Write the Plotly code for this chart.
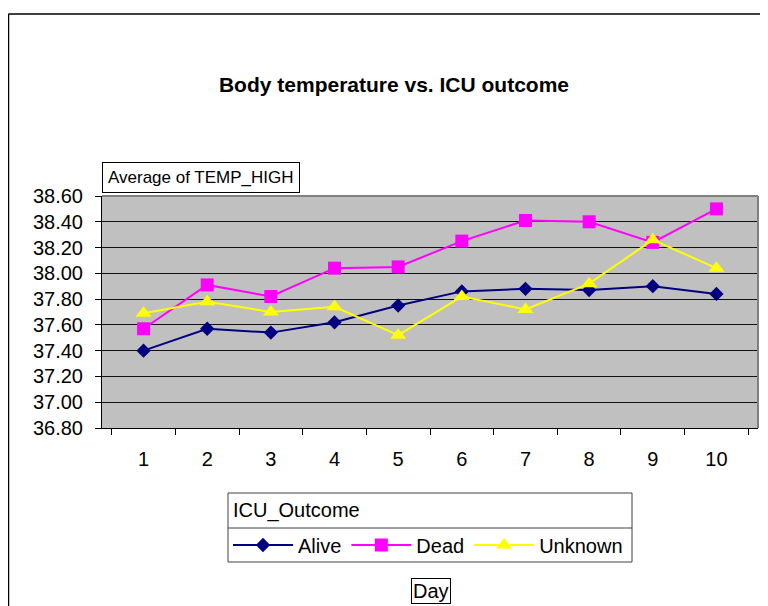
import plotly.graph_objects as go

days = ["1", "2", "3", "4", "5", "6", "7", "8", "9", "10"]
alive = [37.40, 37.57, 37.54, 37.62, 37.75, 37.86, 37.88, 37.87, 37.90, 37.84]
dead = [37.57, 37.91, 37.82, 38.04, 38.05, 38.25, 38.41, 38.40, 38.24, 38.50]
unknown = [37.69, 37.78, 37.70, 37.74, 37.52, 37.82, 37.72, 37.92, 38.26, 38.04]
y_ticks = [36.8, 37.0, 37.2, 37.4, 37.6, 37.8, 38.0, 38.2, 38.4, 38.6]

# page body has an 8px margin; work in reference pixel coordinates
OX, OY = 8, 8
W, H = 768 - OX, 606 - OY
PL, PR, PT, PB = 102, 758, 196, 428  # plot area in reference pixels
L, R, T, B = PL - OX, W - (PR - OX), PT - OY, H - (PB - OY)
PW, PH = PR - PL, PB - PT


def px(x):
    return (x - PL) / PW


def py(y):
    return (PB - y) / PH


FONT = "Arial, Liberation Sans, sans-serif"

fig = go.Figure()
fig.add_trace(go.Scatter(x=days, y=alive, name="Alive", mode="lines+markers",
                         line=dict(color="#000080", width=2),
                         marker=dict(symbol="diamond", size=11, color="#000080")))
fig.add_trace(go.Scatter(x=days, y=dead, name="Dead", mode="lines+markers",
                         line=dict(color="#FF00FF", width=2),
                         marker=dict(symbol="square", size=13, color="#FF00FF")))
fig.add_trace(go.Scatter(x=days, y=unknown, name="Unknown", mode="lines+markers",
                         line=dict(color="#FFFF00", width=2),
                         marker=dict(symbol="triangle-up", size=14, color="#FFFF00")))

fig.update_layout(
    width=W, height=H,
    margin=dict(l=L, r=R, t=T, b=B),
    paper_bgcolor="white",
    plot_bgcolor="#C0C0C0",
    font=dict(family=FONT, size=20, color="black"),
    title=dict(text="<b>Body temperature vs. ICU outcome</b>",
               x=(394 - OX) / W, y=1 - (85 - OY) / H, xref="container",
               yref="container", xanchor="center", yanchor="middle",
               font=dict(size=21, family=FONT, color="black")),
    xaxis=dict(type="category", tickson="boundaries", ticks="outside",
               ticklen=6, tickcolor="black", showline=True, linecolor="black",
               linewidth=1, showgrid=False, ticklabelstandoff=13,
               tickfont=dict(size=20)),
    yaxis=dict(range=[36.8, 38.6], tickvals=y_ticks, tickformat=".2f",
               ticks="outside", ticklen=6, tickcolor="black", showline=True,
               linecolor="black", linewidth=1, showgrid=True,
               gridcolor="#111111", gridwidth=1, zeroline=False,
               ticklabelstandoff=8, tickfont=dict(size=20)),
    showlegend=True,
    legend=dict(orientation="h", x=px(228), y=py(545), xanchor="left",
                yanchor="middle", bgcolor="rgba(0,0,0,0)", borderwidth=0,
                font=dict(size=20), itemwidth=60, traceorder="normal"),
    shapes=[
        # outer chart border (left and top)
        dict(type="line", xref="paper", yref="paper", x0=px(8.5), x1=px(8.5),
             y0=py(620), y1=py(14), line=dict(color="black", width=1.5)),
        dict(type="line", xref="paper", yref="paper", x0=px(8.5), x1=px(780),
             y0=py(14), y1=py(14), line=dict(color="black", width=1.5)),
        # plot area gray border (top and right)
        dict(type="line", xref="paper", yref="paper", x0=0, x1=1, y0=1, y1=1,
             line=dict(color="#808080", width=2), layer="above"),
        dict(type="line", xref="paper", yref="paper", x0=1, x1=1, y0=0, y1=1,
             line=dict(color="#808080", width=2), layer="above"),
        # legend boxes
        dict(type="rect", xref="paper", yref="paper", x0=px(228), x1=px(632),
             y0=py(562), y1=py(493), line=dict(color="#404040", width=1)),
        dict(type="line", xref="paper", yref="paper", x0=px(228), x1=px(632),
             y0=py(528), y1=py(528), line=dict(color="#404040", width=1)),
    ],
    annotations=[
        dict(text="Average of TEMP_HIGH", xref="paper", yref="paper",
             x=px(102), y=py(177.5), xanchor="left", yanchor="middle",
             showarrow=False, font=dict(size=17), bordercolor="black",
             borderwidth=1, borderpad=5, bgcolor="white"),
        dict(text="ICU_Outcome", xref="paper", yref="paper",
             x=px(231), y=py(510), xanchor="left", yanchor="middle",
             showarrow=False, font=dict(size=20)),
        dict(text="Day", xref="paper", yref="paper",
             x=px(430.5), y=py(591), xanchor="center", yanchor="middle",
             showarrow=False, font=dict(size=20), bordercolor="black",
             borderwidth=1, borderpad=1, bgcolor="white"),
    ],
)

fig.write_html("out.html")
